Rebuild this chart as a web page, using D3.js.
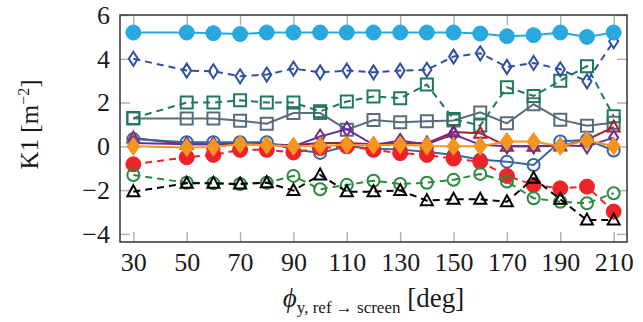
<!DOCTYPE html>
<html>
<head>
<meta charset="utf-8">
<script src="https://cdn.jsdelivr.net/npm/d3@7"></script>
<style>
  body { margin: 0; background: #fff; }
  text { font-family: "Liberation Serif", "DejaVu Serif", serif; }
</style>
</head>
<body>
<div id="plot"></div>
<script>
var svgWidth = 643;
var svgHeight = 322;

// angles (deg)
var angles = [30, 50, 60, 70, 80, 90, 100, 110, 120, 130, 140, 150, 160, 170, 180, 190, 200, 210];
var xTicks = [30, 50, 70, 90, 110, 130, 150, 170, 190, 210];
var yTicks = [-4, -2, 0, 2, 4, 6];

var lightBlue = [5.2, 5.2, 5.17, 5.13, 5.2, 5.2, 5.2, 5.2, 5.2, 5.2, 5.2, 5.2, 5.15, 5.03, 5.08, 5.2, 5.0, 5.2];
var darkBlue = [4.0, 3.46, 3.43, 3.2, 3.28, 3.55, 3.38, 3.46, 3.38, 3.46, 3.5, 4.1, 4.25, 3.63, 3.81, 3.52, 2.97, 4.8];
var darkGreen = [1.29, 2.0, 2.0, 2.1, 2.0, 2.0, 1.6, 2.05, 2.28, 2.2, 2.82, 1.25, 0.95, 2.7, 2.3, 3.0, 3.66, 1.37];
var slate = [1.27, 1.27, 1.27, 1.17, 1.03, 1.52, 1.52, 0.76, 1.2, 1.1, 1.15, 1.18, 1.55, 1.05, 1.92, 1.22, 0.94, 1.08];
var darkRed = [0.38, 0.1, 0.1, 0.12, 0.1, 0.05, 0.15, 0.15, 0.1, 0.12, 0.15, 0.65, 0.6, 0.0, 0.0, 0.02, 0.3, 0.88];
var purple = [0.15, 0.1, 0.1, 0.1, 0.1, 0.0, 0.45, 0.79, 0.07, 0.25, 0.1, 0.55, 0.07, 0.0, 0.0, 0.05, 0.0, 0.4];
var midBlue = [0.33, 0.19, 0.19, 0.19, 0.19, -0.13, -0.3, 0.0, -0.1, -0.15, -0.25, -0.4, -0.6, -0.7, -0.85, 0.22, 0.3, -0.19];
var orange = [0.0, -0.05, -0.03, 0.1, 0.05, 0.0, 0.02, 0.07, 0.05, 0.07, 0.02, 0.0, 0.0, 0.22, 0.22, 0.0, 0.27, 0.02];
var red = [-0.82, -0.5, -0.39, -0.16, -0.16, -0.28, -0.08, 0.0, -0.16, -0.31, -0.39, -0.56, -0.7, -1.35, -1.76, -1.92, -1.84, -2.98];
var green = [-1.31, -1.66, -1.69, -1.72, -1.66, -1.35, -1.96, -1.76, -1.57, -1.72, -1.66, -1.53, -1.26, -1.61, -2.37, -2.53, -2.6, -2.14];
var black = [-2.07, -1.69, -1.69, -1.72, -1.66, -2.02, -1.31, -2.07, -2.07, -2.02, -2.48, -2.42, -2.42, -2.53, -1.46, -2.42, -3.37, -3.37];

var series = [
  { values: slate, color: "#5b6b7e", marker: "square", dash: null },
  { values: darkGreen, color: "#1d7a5a", marker: "square", dash: "7,5" },
  { values: darkBlue, color: "#2f4fa8", marker: "thinDiamond", dash: "7,5" },
  { values: lightBlue, color: "#29a8e0", marker: "dot", dash: null },
  { values: darkRed, color: "#a3222f", marker: "triangle", dash: null },
  { values: purple, color: "#6a2d9c", marker: "thinDiamond", dash: null },
  { values: midBlue, color: "#3a64a2", marker: "circle", dash: null },
  { values: red, color: "#ee2229", marker: "dot", dash: "7,5" },
  { values: orange, color: "#f7941d", marker: "fatDiamond", dash: null },
  { values: green, color: "#2a8a3c", marker: "circle", dash: "7,5" },
  { values: black, color: "#000000", marker: "triangle", dash: "7,5" }
];

var margin = { top: 15, right: 16, bottom: 80, left: 120 };
var width = svgWidth - margin.left - margin.right;
var height = svgHeight - margin.top - margin.bottom;

var svg = d3.select("#plot")
  .append("svg")
  .attr("width", svgWidth)
  .attr("height", svgHeight);

var chartGroup = svg.append("g")
  .attr("transform", `translate(${margin.left}, ${margin.top})`);

var x = d3.scaleLinear().domain([25, 215]).range([0, width]);
var y = d3.scaleLinear().domain([-4.37, 6]).range([height, 0]);

// ticks (gray, inward) on all four sides
function tickStyle(g) {
  g.attr("font-family", "Liberation Serif").attr("font-size", 26);
  g.select(".domain").remove();
  g.selectAll(".tick line").attr("stroke", "#b3b3b3").attr("stroke-width", 1.5);
  g.selectAll(".tick text").attr("fill", "#1a1a1a");
}

chartGroup.append("g")
  .attr("transform", `translate(0, ${height})`)
  .call(d3.axisBottom(x).tickValues(xTicks).tickSize(-10).tickPadding(11).tickFormat(d3.format("d")))
  .call(tickStyle);

chartGroup.append("g")
  .call(d3.axisTop(x).tickValues(xTicks).tickSize(-10).tickFormat(""))
  .call(tickStyle);

chartGroup.append("g")
  .call(d3.axisLeft(y).tickValues(yTicks).tickSize(-10).tickPadding(10).tickFormat(d => d < 0 ? "\u2212" + Math.abs(d) : d))
  .call(tickStyle);

chartGroup.append("g")
  .attr("transform", `translate(${width}, 0)`)
  .call(d3.axisRight(y).tickValues(yTicks).tickSize(-10).tickFormat(""))
  .call(tickStyle);

// marker shapes
function markerPath(type) {
  var p = d3.path();
  if (type === "square") {
    p.rect(-6, -6, 12, 12);
  } else if (type === "thinDiamond") {
    p.moveTo(0, -7); p.lineTo(4.5, 0); p.lineTo(0, 7); p.lineTo(-4.5, 0); p.closePath();
  } else if (type === "fatDiamond") {
    p.moveTo(0, -9); p.lineTo(6.5, 0); p.lineTo(0, 9); p.lineTo(-6.5, 0); p.closePath();
  } else if (type === "triangle") {
    p.moveTo(0, -6.5); p.lineTo(6, 4.5); p.lineTo(-6, 4.5); p.closePath();
  } else if (type === "circle") {
    p.arc(0, 0, 6, 0, 2 * Math.PI);
  } else if (type === "dot") {
    p.arc(0, 0, 7.5, 0, 2 * Math.PI);
  }
  return p.toString();
}

var line = d3.line()
  .x((d, i) => x(angles[i]))
  .y(d => y(d));

series.forEach(function (s) {
  var g = chartGroup.append("g");
  g.append("path")
    .datum(s.values)
    .attr("d", line)
    .attr("fill", "none")
    .attr("stroke", s.color)
    .attr("stroke-width", 2)
    .attr("stroke-dasharray", s.dash);

  var filled = s.marker === "dot" || s.marker === "fatDiamond";
  g.selectAll(".m")
    .data(s.values)
    .enter()
    .append("path")
    .attr("transform", (d, i) => `translate(${x(angles[i])}, ${y(d)})`)
    .attr("d", markerPath(s.marker))
    .attr("fill", filled ? s.color : "none")
    .attr("stroke", s.color)
    .attr("stroke-width", filled ? 1 : 2);
});

// frame
chartGroup.append("rect")
  .attr("width", width)
  .attr("height", height)
  .attr("fill", "none")
  .attr("stroke", "#333")
  .attr("stroke-width", 1.5);

// axis titles
var xLabel = svg.append("text")
  .attr("x", margin.left + width / 2)
  .attr("y", 307)
  .attr("text-anchor", "middle")
  .attr("fill", "#1a1a1a")
  .style("font-size", "27px");
xLabel.append("tspan").style("font-style", "italic").text("\u03d5");
xLabel.append("tspan").attr("dy", 6).style("font-size", "17px").text("y, ref \u2192 screen");
xLabel.append("tspan").attr("dy", -6).text(" [deg]");

var yLabel = svg.append("text")
  .attr("transform", `translate(38, ${margin.top + height / 2 - 4}) rotate(-90)`)
  .attr("text-anchor", "middle")
  .attr("fill", "#1a1a1a")
  .style("font-size", "25px");
yLabel.append("tspan").text("K1 [m");
yLabel.append("tspan").attr("dy", -9).style("font-size", "16px").text("\u22122");
yLabel.append("tspan").attr("dy", 9).text("]");
</script>
</body>
</html>
